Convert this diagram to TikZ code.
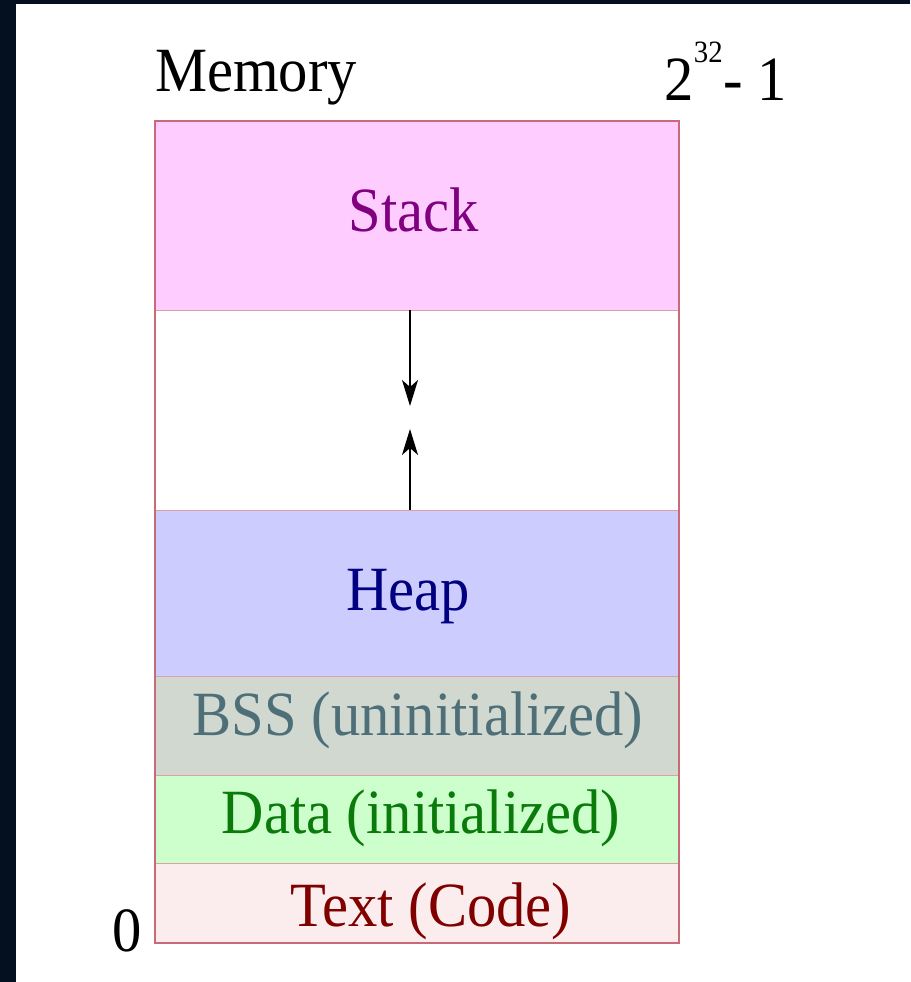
\documentclass[tikz,border=0pt]{standalone}
\usepackage{fontspec}
\setmainfont{Liberation Serif}[FakeStretch=0.93]
\usetikzlibrary{arrows.meta}

\definecolor{frame}{HTML}{04101F}
\definecolor{edge}{HTML}{C86A78}
\definecolor{divider}{HTML}{DDA0A8}
\definecolor{stackfill}{HTML}{FFCCFF}
\definecolor{heapfill}{HTML}{CCCCFF}
\definecolor{bssfill}{HTML}{D0D8D0}
\definecolor{datafill}{HTML}{CCFFCC}
\definecolor{textfill}{HTML}{FBEDED}
\definecolor{stackink}{HTML}{800080}
\definecolor{heapink}{HTML}{000080}
\definecolor{bssink}{HTML}{4F6F78}
\definecolor{dataink}{HTML}{0A7A0A}
\definecolor{textink}{HTML}{800000}

\tikzset{
  segment/.style={draw=divider, line width=1pt, minimum width=524pt, inner sep=0pt, outer sep=0pt},
  seglabel/.style={anchor=base, inner sep=0pt, font=\fontsize{63}{70}\selectfont},
  caption/.style={anchor=base west, inner sep=0pt, font=\fontsize{63}{70}\selectfont},
  growth/.style={line width=1.7pt, -{Stealth[length=26pt, width=16pt, inset=7pt]}}
}

\begin{document}
\begin{tikzpicture}[x=1pt, y=-1pt]
  \useasboundingbox (0,0) rectangle (910,982);
  \fill[white] (0,0) rectangle (910,982);
  % dark frame strips
  \fill[frame] (0,0) rectangle (16,982);
  \fill[frame] (0,0) rectangle (910,4);

  % memory segments, top to bottom
  \node[segment, fill=stackfill, minimum height=189pt, anchor=north west] (stack) at (155,121) {};
  \node[segment, fill=white,     minimum height=200pt, anchor=north west] (gap)   at (155,310) {};
  \node[segment, fill=heapfill,  minimum height=166pt, anchor=north west] (heap)  at (155,510) {};
  \node[segment, fill=bssfill,   minimum height=99pt,  anchor=north west] (bss)   at (155,676) {};
  \node[segment, fill=datafill,  minimum height=88pt,  anchor=north west] (data)  at (155,775) {};
  \node[segment, fill=textfill,  minimum height=80pt,  anchor=north west] (text)  at (155,863) {};

  % outer outline
  \draw[edge, line width=2pt] (stack.north west) rectangle (text.south east);

  % segment labels
  \node[seglabel, text=stackink] (stacklbl) at (414,231) {Stack};
  \node[seglabel, text=heapink]  (heaplbl)  at (408,610) {Heap};
  \node[seglabel, text=bssink]   (bsslbl)   at (418,735) {BSS (uninitialized)};
  \node[seglabel, text=dataink]  (datalbl)  at (421,833) {Data (initialized)};
  \node[seglabel, text=textink]  (textlbl)  at (431,926) {Text (Code)};

  % growth arrows
  \coordinate (stacktip) at (410,406);
  \coordinate (heaptip)  at (410,429);
  \draw[growth] (stack.south -| stacktip) -- (stacktip);
  \draw[growth] (heap.north -| heaptip) -- (heaptip);

  % address captions
  \node[caption] (memlbl) at (155,92) {Memory};
  \node[caption] (two) at (664,100) {2};
  \node[anchor=base west, inner sep=0pt, font=\fontsize{31}{34}\selectfont] (exp) at (two.base east) [yshift=37pt] {32};
  \node[caption] (minusone) at (exp.base east) [yshift=-37pt] {- 1};
  \node[anchor=base east, inner sep=0pt, font=\fontsize{63}{70}\selectfont] (zero) at (142,951) {0};
\end{tikzpicture}
\end{document}
